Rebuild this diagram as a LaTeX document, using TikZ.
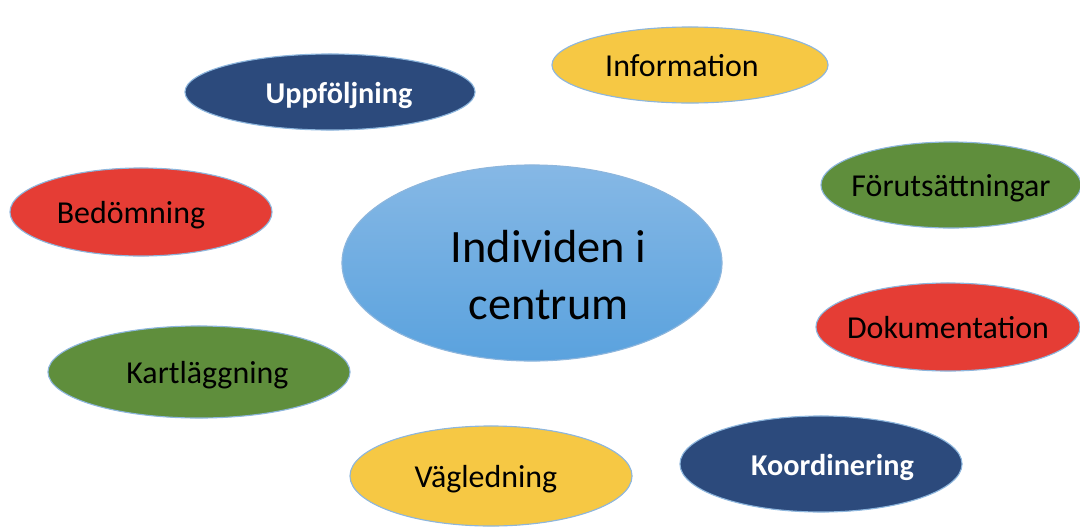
\documentclass[tikz,border=0pt]{standalone}
\usepackage{fontspec}
\setmainfont{Carlito}
\usetikzlibrary{shapes.geometric}
\definecolor{darkblue}{HTML}{2C4A7C}
\definecolor{sunyellow}{HTML}{F6C844}
\definecolor{leafgreen}{HTML}{5F8E3C}
\definecolor{brickred}{HTML}{E53D35}
\definecolor{skytop}{HTML}{86B8E5}
\definecolor{skybottom}{HTML}{5AA2DE}
\definecolor{rimblue}{HTML}{8DB6DD}
% strut that puts the words a little below the middle, no width so the ellipse keeps its size
\newcommand{\inbubble}[1]{\makebox[0pt]{\rule[-5pt]{0pt}{27pt}#1}}

\begin{document}
\begin{tikzpicture}[x=0.025cm,y=-0.025cm,
  bubble/.style={ellipse,draw=rimblue,line width=0.8pt,inner sep=0pt,
    font=\fontsize{22.7}{26}\selectfont},
  darkbubble/.style={bubble,fill=darkblue,text=white,font=\fontsize{21.5}{25}\selectfont\bfseries},
  hub/.style={ellipse,draw=rimblue,line width=0.8pt,inner sep=0pt,
    top color=skytop,bottom color=skybottom,align=center,
    font=\fontsize{33}{41}\selectfont}]

\useasboundingbox (0,0) rectangle (1080,527);

\node[hub,minimum width=9.5cm,minimum height=4.9cm](centre) at (532,263){\rule{0pt}{40pt}\hspace*{0.83cm}Individen i\\\hspace*{0.83cm}centrum};

\node[darkbubble,minimum width=7.25cm,minimum height=1.9cm](follow) at (330,92){\inbubble{\hspace*{0.45cm}Uppföljning}};
\node[bubble,fill=sunyellow,minimum width=6.9cm,minimum height=1.9cm](info) at (690,65){\inbubble{Information\hspace*{0.4cm}}};
\node[bubble,fill=leafgreen,minimum width=6.5cm,minimum height=2.15cm](prereq) at (951,185){\inbubble{Förutsättningar}};
\node[bubble,fill=brickred,minimum width=6.55cm,minimum height=2.2cm](assess) at (141,212){\inbubble{Bedömning\hspace*{0.5cm}}};
\node[bubble,fill=brickred,minimum width=6.6cm,minimum height=2.2cm](docs) at (948,327){\inbubble{Dokumentation}};
\node[bubble,fill=leafgreen,minimum width=7.55cm,minimum height=2.3cm](survey) at (199,372){\inbubble{\hspace*{0.42cm}Kartläggning}};
\node[bubble,fill=sunyellow,minimum width=7.05cm,minimum height=2.5cm](guide) at (491,476){\inbubble{Vägledning\hspace*{0.25cm}}};
\node[darkbubble,minimum width=7.05cm,minimum height=2.4cm](coord) at (821,464){\inbubble{\hspace*{0.575cm}Koordinering}};

\end{tikzpicture}
\end{document}
